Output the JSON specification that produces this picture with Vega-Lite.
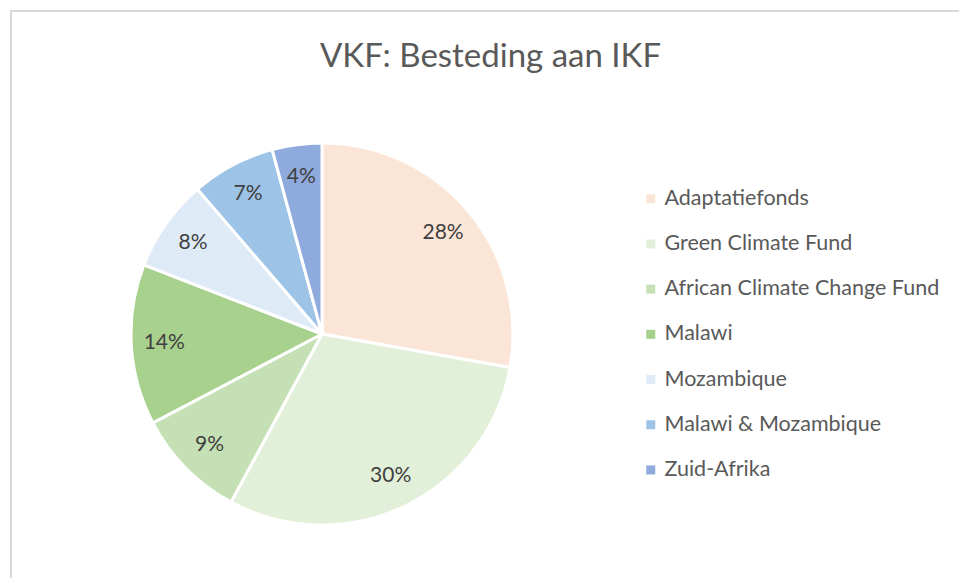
{
  "$schema": "https://vega.github.io/schema/vega-lite/v6.json",
  "width": 960,
  "height": 580,
  "autosize": "none",
  "padding": {"left": 11, "top": 11, "right": 0, "bottom": 0},
  "background": "white",
  "config": {
    "view": {"stroke": "#d9d9d9", "strokeWidth": 2},
    "font": "Lato"
  },
  "title": {
    "text": "VKF: Besteding aan IKF",
    "anchor": "start",
    "frame": "group",
    "orient": "top",
    "offset": -63,
    "dx": 309,
    "fontSize": 33,
    "font": "Lato",
    "fontWeight": "normal",
    "color": "#595959"
  },
  "data": {
    "values": [
      {"idx": 1, "category": "Adaptatiefonds", "value": 27.8, "label": "28%"},
      {"idx": 2, "category": "Green Climate Fund", "value": 30.1, "label": "30%"},
      {"idx": 3, "category": "African Climate Change Fund", "value": 9.4, "label": "9%"},
      {"idx": 4, "category": "Malawi", "value": 13.6, "label": "14%"},
      {"idx": 5, "category": "Mozambique", "value": 7.8, "label": "8%"},
      {"idx": 6, "category": "Malawi & Mozambique", "value": 7.1, "label": "7%"},
      {"idx": 7, "category": "Zuid-Afrika", "value": 4.2, "label": "4%"}
    ]
  },
  "encoding": {
    "theta": {"field": "value", "type": "quantitative", "stack": true},
    "order": {"field": "idx", "type": "quantitative"},
    "x": {"value": 311},
    "y": {"value": 323}
  },
  "layer": [
    {
      "mark": {"type": "arc", "outerRadius": 191, "stroke": "white", "strokeWidth": 3},
      "encoding": {
        "color": {
          "field": "category",
          "type": "nominal",
          "sort": ["Adaptatiefonds", "Green Climate Fund", "African Climate Change Fund", "Malawi", "Mozambique", "Malawi & Mozambique", "Zuid-Afrika"],
          "scale": {
            "domain": ["Adaptatiefonds", "Green Climate Fund", "African Climate Change Fund", "Malawi", "Mozambique", "Malawi & Mozambique", "Zuid-Afrika"],
            "range": ["#FBE5D6", "#E2F0D9", "#C5E0B4", "#A9D18E", "#DEEBF7", "#9DC3E6", "#8FAADC"]
          },
          "legend": {
            "title": null,
            "orient": "none",
            "legendX": 629,
            "legendY": 177,
            "symbolType": "square",
            "symbolSize": 81,
            "symbolStrokeWidth": 0,
            "labelFontSize": 21.5,
            "labelFont": "Lato",
            "labelColor": "#595959",
            "labelOffset": 3,
            "labelLimit": 400,
            "rowPadding": 22.2
          }
        }
      }
    },
    {
      "mark": {"type": "text", "radius": 158, "fontSize": 21, "font": "Lato", "color": "#404040"},
      "encoding": {
        "text": {"field": "label", "type": "nominal"}
      }
    }
  ]
}
